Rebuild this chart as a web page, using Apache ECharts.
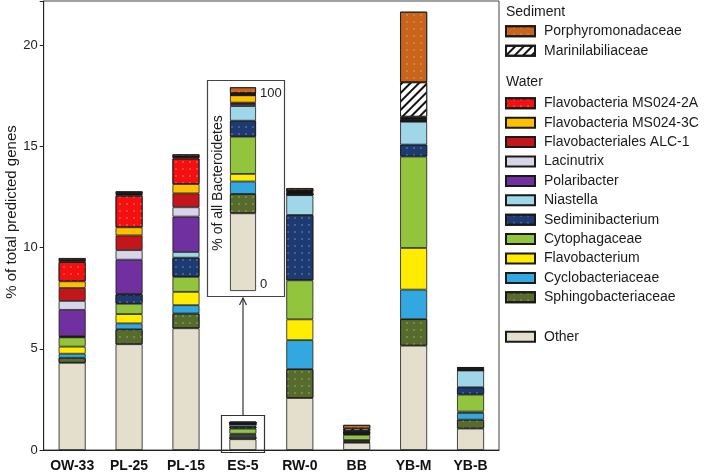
<!DOCTYPE html>
<html><head><meta charset="utf-8">
<script src="https://cdn.jsdelivr.net/npm/echarts@6/dist/echarts.min.js"></script>
<style>html,body{margin:0;padding:0;background:#fff}#c{width:709px;height:473px}</style>
</head><body><div id="c"></div>
<script>
var categories = ['OW-33','PL-25','PL-15','ES-5','RW-0','BB','YB-M','YB-B'];
var other      = [4.31, 5.23, 6.02, 0.533, 2.57, 0.36, 5.16, 1.06];
var sphingo    = [0.25, 0.74, 0.73, 0.133, 1.43, 0.05, 1.31, 0.44];
var cyclo      = [0.20, 0.29, 0.41, 0.085, 1.43, 0.06, 1.46, 0.33];
var flavobact  = [0.35, 0.46, 0.66, 0.052, 1.03, 0.02, 2.06, 0.07];
var cytoph     = [0.46, 0.51, 0.74, 0.255, 1.93, 0.26, 4.52, 0.84];
var sedimini   = [0.04, 0.46, 0.95, 0.110, 3.23, 0.05, 0.59, 0.36];
var niastella  = [0.02, 0.03, 0.28, 0.100, 0.98, 0.02, 1.13, 0.83];
var polari     = [1.30, 1.69, 1.75, 0.014, 0.02, 0.01, 0.02, 0.00];
var lacinutrix = [0.44, 0.47, 0.46, 0.005, 0.01, 0.01, 0.01, 0.00];
var alc1       = [0.64, 0.73, 0.69, 0.005, 0.01, 0.01, 0.01, 0.00];
var ms3c       = [0.33, 0.40, 0.46, 0.050, 0.00, 0.02, 0.02, 0.01];
var ms2a       = [0.95, 1.56, 1.26, 0.000, 0.00, 0.01, 0.01, 0.00];
var unassigned = [0.08, 0.12, 0.09, 0.015, 0.20, 0.06, 0.18, 0.11];
var marinil    = [0.02, 0.02, 0.02, 0.000, 0.00, 0.12, 1.70, 0.00];
var porphyro   = [0.10, 0.08, 0.10, 0.040, 0.11, 0.18, 3.49, 0.05];
var yTicks = [0, 5, 10, 15, 20];
var insetTicks = [0, 100];

var FONT = "'Liberation Sans', Arial, Helvetica, sans-serif";
function dots(c){ return {symbol:'circle', symbolSize:0.7, color:c, dashArrayX:[[1.6,4.4]], dashArrayY:[1.6,4.4]}; }
var layers = [
  {name:'Other', data:other, color:'#e3dfcc'},
  {name:'Sphingobacteriaceae', data:sphingo, color:'#566b2c', decal:dots('rgba(220,230,170,0.7)')},
  {name:'Cyclobacteriaceae', data:cyclo, color:'#33a8e0'},
  {name:'Flavobacterium', data:flavobact, color:'#ffec00'},
  {name:'Cytophagaceae', data:cytoph, color:'#92c43d'},
  {name:'Sediminibacterium', data:sedimini, color:'#1d3b72', decal:dots('rgba(170,200,240,0.75)')},
  {name:'Niastella', data:niastella, color:'#9fd7e8'},
  {name:'Polaribacter', data:polari, color:'#7030a0'},
  {name:'Lacinutrix', data:lacinutrix, color:'#d9d5e9'},
  {name:'Flavobacteriales ALC-1', data:alc1, color:'#c3161c'},
  {name:'Flavobacteria MS024-3C', data:ms3c, color:'#ffc000'},
  {name:'Flavobacteria MS024-2A', data:ms2a, color:'#f50f0f', decal:dots('rgba(255,200,200,0.8)')},
  {name:'Unassigned', data:unassigned, color:'#111111'},
  {name:'Marinilabiliaceae', data:marinil, color:'#ffffff', decal:{symbol:'rect', symbolSize:1, color:'#111', dashArrayX:[1,0], dashArrayY:[1.6,3.2], rotation:-Math.PI/4}},
  {name:'Porphyromonadaceae', data:porphyro, color:'#c8641c', decal:dots('rgba(255,200,150,0.75)')}
];
var es5Index = categories.indexOf('ES-5');
var es5Total = layers.reduce(function(s,l){return s + l.data[es5Index];},0);

var series = [];
layers.forEach(function(l){
  var st = {color:l.color, borderColor:'#1a1a1a', borderWidth:0.8};
  if (l.decal) st.decal = l.decal;
  series.push({name:l.name, type:'bar', stack:'main', barWidth:27, data:l.data, itemStyle:st, xAxisIndex:0, yAxisIndex:0});
  series.push({name:l.name, type:'bar', stack:'inset', barWidth:26, data:[l.data[es5Index]/es5Total*100], itemStyle:st, xAxisIndex:1, yAxisIndex:1});
});

var legendBase = {orient:'vertical', left:505, padding:0, itemWidth:29, itemHeight:10, itemGap:5.4, icon:'rect',
  textStyle:{fontFamily:FONT, fontSize:14, color:'#1a1a1a', lineHeight:14, padding:[0,0,0,4]}, selectedMode:false};

var option = {
  animation:false,
  aria:{enabled:false},
  grid:[
    {left:43.7, right:210, top:1, bottom:20.7, show:true, borderColor:'#444', borderWidth:1, backgroundColor:'transparent'},
    {left:230, top:87.3, width:26, height:203.7}
  ],
  xAxis:[
    {type:'category', data:categories, gridIndex:0, axisTick:{show:false}, axisLine:{lineStyle:{color:'#222', width:1}},
     axisLabel:{interval:0, fontFamily:FONT, fontSize:14, fontWeight:'bold', color:'#111', margin:9}},
    {type:'category', data:['ES-5'], gridIndex:1, show:false}
  ],
  yAxis:[
    {type:'value', gridIndex:0, min:0, max:22.2, interval:5,
     axisLine:{show:true, lineStyle:{color:'#222'}}, axisTick:{show:true, length:4, lineStyle:{color:'#222'}},
     splitLine:{show:false},
     axisLabel:{fontFamily:FONT, fontSize:13, color:'#222', margin:6,
       formatter:function(v){ return yTicks.indexOf(v) >= 0 ? String(v) : ''; }}},
    {type:'value', gridIndex:1, min:insetTicks[0], max:insetTicks[1], interval:100, position:'right',
     axisLine:{show:false}, axisTick:{show:false}, splitLine:{show:false},
     axisLabel:{fontFamily:FONT, fontSize:13, color:'#222', margin:4, verticalAlignMinLabel:'bottom', verticalAlignMaxLabel:'top'}}
  ],
  legend:[
    Object.assign({}, legendBase, {top:24.3, data:['Porphyromonadaceae','Marinilabiliaceae']}),
    Object.assign({}, legendBase, {top:96.3, data:['Flavobacteria MS024-2A','Flavobacteria MS024-3C','Flavobacteriales ALC-1','Lacinutrix','Polaribacter','Niastella','Sediminibacterium','Cytophagaceae','Flavobacterium','Cyclobacteriaceae','Sphingobacteriaceae']}),
    Object.assign({}, legendBase, {top:329.7, data:['Other']})
  ],
  graphic:[
    {type:'text', x:12, y:212, rotation:Math.PI/2, style:{text:'% of total predicted genes', font:'15px '+FONT, fill:'#1a1a1a', align:'center', verticalAlign:'middle'}},
    {type:'text', left:506, top:5, style:{text:'Sediment', font:'14px '+FONT, fill:'#1a1a1a'}},
    {type:'text', left:506, top:75, style:{text:'Water', font:'14px '+FONT, fill:'#1a1a1a'}},
    {type:'rect', shape:{x:207.5, y:80.5, width:77, height:216}, style:{fill:'none', stroke:'#444', lineWidth:1.2}, z:10},
    {type:'rect', shape:{x:221.5, y:415.5, width:43, height:37}, style:{fill:'none', stroke:'#333', lineWidth:1.2}, z:10},
    {type:'polyline', shape:{points:[[243,415.5],[243,298]]}, style:{stroke:'#333', lineWidth:1.2, fill:null}, z:10},
    {type:'polyline', shape:{points:[[239.5,305],[243,298],[246.5,305]]}, style:{stroke:'#333', lineWidth:1.2, fill:null}, z:10},
    {type:'text', x:218, y:183, rotation:Math.PI/2, style:{text:'% of all Bacteroidetes', font:'14px '+FONT, fill:'#1a1a1a', align:'center', verticalAlign:'middle'}, z:10}
  ],
  series:series
};
var chart = echarts.init(document.getElementById('c'), null, {renderer:'canvas'});
chart.setOption(option);
</script></body></html>
